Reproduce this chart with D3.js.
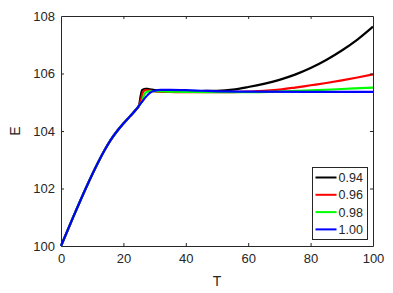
<!DOCTYPE html>
<html>
<head>
<meta charset="utf-8">
<script src="https://cdn.jsdelivr.net/npm/d3@7"></script>
<style>
  body { margin: 0; background: #fff; }
  svg text { font-family: "Liberation Sans", Arial, sans-serif; fill: #262626; }
</style>
</head>
<body>
<svg id="chart" width="393" height="293"></svg>
<script>
// data
const seriesNames = ["0.94", "0.96", "0.98", "1.00"];
const seriesColors = ["#000000", "#ff0000", "#00ff00", "#0000ff"];
const xTicks = [0, 20, 40, 60, 80, 100];
const yTicks = [100, 102, 104, 106, 108];

// common rising part (all curves overlap)
const riseT = [0, 4, 8, 12, 14, 16, 18, 20, 22, 24, 25];
const riseE = [100, 101.03, 102.02, 102.93, 103.34, 103.7, 104.0, 104.26, 104.5, 104.74, 104.88];

const tailT94 = [25.5, 26, 27, 28, 30, 35, 40, 45, 50, 55, 60, 65, 70, 75, 80, 85, 90, 95, 100];
const tailE94 = [105.2, 105.42, 105.47, 105.46, 105.42, 105.38, 105.38, 105.39, 105.40, 105.44, 105.53, 105.64, 105.78, 105.96, 106.19, 106.47, 106.8, 107.18, 107.63];

const tailT96 = [25.7, 26.2, 27, 28, 30, 35, 40, 50, 60, 65, 70, 75, 80, 85, 90, 95, 100];
const tailE96 = [105.1, 105.33, 105.42, 105.41, 105.38, 105.36, 105.35, 105.35, 105.37, 105.40, 105.44, 105.51, 105.59, 105.67, 105.76, 105.86, 105.97];

const tailT98 = [26, 26.5, 27, 28, 30, 35, 40, 50, 60, 70, 80, 90, 100];
const tailE98 = [105.05, 105.22, 105.32, 105.38, 105.39, 105.37, 105.36, 105.35, 105.35, 105.37, 105.41, 105.46, 105.51];

const tailT100 = [26, 27, 28, 29, 30, 32, 35, 40, 45, 50, 60, 80, 100];
const tailE100 = [105.02, 105.16, 105.28, 105.36, 105.40, 105.43, 105.43, 105.42, 105.40, 105.38, 105.37, 105.36, 105.36];

const tails = [[tailT94, tailE94], [tailT96, tailE96], [tailT98, tailE98], [tailT100, tailE100]];

const svg = d3.select("#chart");
const margin = {left: 61, right: 20, top: 16, bottom: 47};
const W = 393, H = 293;

const x = d3.scaleLinear().domain([0, 100]).range([margin.left, W - margin.right]);
const y = d3.scaleLinear().domain([100, 108]).range([H - margin.bottom, margin.top]);

const axisColor = "#262626";

// lines
const line = d3.line().x(d => x(d[0])).y(d => y(d[1])).curve(d3.curveMonotoneX);
const plot = svg.append("g");
tails.forEach((tl, i) => {
  const pts = riseT.map((t, k) => [t, riseE[k]]).concat(tl[0].map((t, k) => [t, tl[1][k]]));
  plot.append("path")
    .datum(pts)
    .attr("d", line)
    .attr("fill", "none")
    .attr("stroke", seriesColors[i])
    .attr("stroke-width", 2.2)
    .attr("stroke-linejoin", "round");
});

// axes (box with inward ticks)
const tickLen = 3;
const xb = svg.append("g").attr("transform", `translate(0,${y(100)})`)
  .call(d3.axisBottom(x).tickValues(xTicks).tickSizeInner(-tickLen).tickSizeOuter(0).tickPadding(8));
const xt = svg.append("g").attr("transform", `translate(0,${y(108)})`)
  .call(d3.axisTop(x).tickValues(xTicks).tickSizeInner(-tickLen).tickSizeOuter(0).tickFormat(""));
const yl = svg.append("g").attr("transform", `translate(${x(0)},0)`)
  .call(d3.axisLeft(y).tickValues(yTicks).tickSizeInner(-tickLen).tickSizeOuter(0).tickPadding(6));
const yr = svg.append("g").attr("transform", `translate(${x(100)},0)`)
  .call(d3.axisRight(y).tickValues(yTicks).tickSizeInner(-tickLen).tickSizeOuter(0).tickFormat(""));

[xb, xt, yl, yr].forEach(g => {
  g.select(".domain").attr("stroke", axisColor).attr("stroke-width", 1);
  g.selectAll(".tick line").attr("stroke", axisColor);
  g.selectAll(".tick text").attr("font-size", 13).attr("fill", axisColor)
    .style("font-family", "'Liberation Sans', Arial, sans-serif");
});
// hide ticks at the corners
xt.selectAll(".tick").filter(d => d === 0 || d === 100).select("line").remove();
xb.selectAll(".tick").filter(d => d === 0 || d === 100).select("line").remove();
yl.selectAll(".tick").filter(d => d === 100 || d === 108).select("line").remove();
yr.selectAll(".tick").filter(d => d === 100 || d === 108).select("line").remove();

// axis labels
svg.append("text").attr("x", (x(0) + x(100)) / 2).attr("y", 286)
  .attr("text-anchor", "middle").attr("font-size", 14).text("T");
svg.append("text").attr("transform", `translate(20,${(y(100) + y(108)) / 2}) rotate(-90)`)
  .attr("text-anchor", "middle").attr("font-size", 14).text("E");

// legend
const lg = svg.append("g").attr("transform", "translate(312.5,167.5)");
lg.append("rect").attr("width", 55).attr("height", 72)
  .attr("fill", "#fff").attr("stroke", axisColor).attr("stroke-width", 1);
seriesNames.forEach((name, i) => {
  const cy = 10 + i * 17.3;
  lg.append("line").attr("x1", 3).attr("x2", 24).attr("y1", cy).attr("y2", cy)
    .attr("stroke", seriesColors[i]).attr("stroke-width", 2);
  lg.append("text").attr("x", 26).attr("y", cy + 4.5).attr("font-size", 12.5).text(name);
});
</script>
</body>
</html>
